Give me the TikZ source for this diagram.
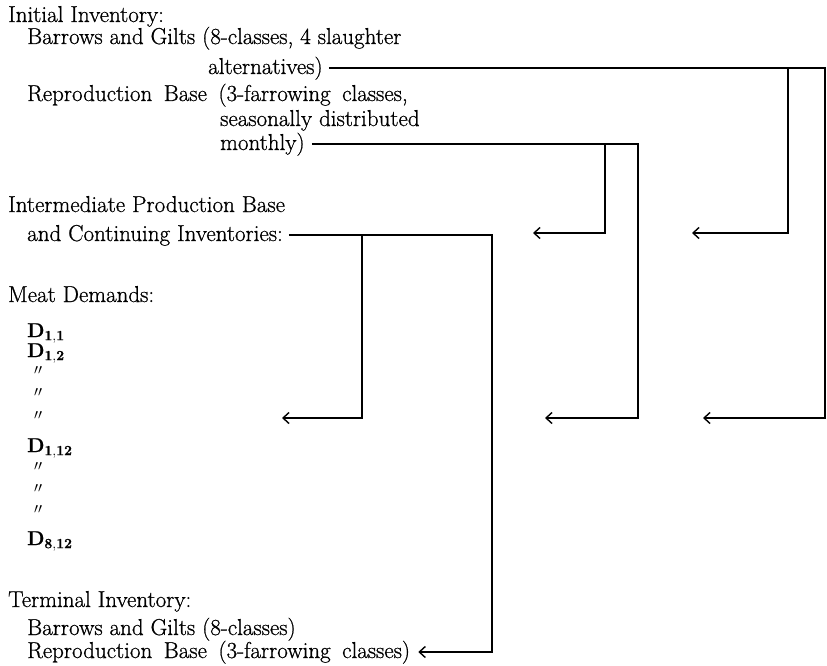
\documentclass[tikz,border=0pt]{standalone}
\usepackage{fontspec}
\setmainfont{Latin Modern Roman}[FakeBold=0.8]
\usetikzlibrary{arrows.meta}
\newcommand{\widespaces}{\spaceskip=0.5em\relax}
\begin{document}
\begin{tikzpicture}[x=1pt,y=-1pt,
  txt/.style={anchor=base west, inner sep=0pt, font=\fontsize{23}{27}\selectfont},
  dtxt/.style={anchor=base west, inner sep=0pt, font=\fontsize{20}{24}\selectfont},
  ditto/.style={anchor=center, inner sep=0pt, font=\fontsize{21}{25}\selectfont},
  conn/.style={line width=1.8pt, line join=miter},
  arr/.style={conn, -{Straight Barb[length=6pt,width=11pt,line width=1.4pt]}}]
\useasboundingbox (0,0) rectangle (827,666);
\fill[white] (0,0) rectangle (827,666);
% texts
\node[txt] (ii) at (8,22) {Initial Inventory:};
\node[txt] (bg) at (27,44) {Barrows and Gilts (8-classes, 4 slaughter};
\node[txt] (alt) at (208,74) {alternatives)};
\node[txt] (rb) at (27,101) {\widespaces Reproduction Base (3-farrowing classes,};
\node[txt] (sd) at (220,126) {seasonally distributed};
\node[txt] (mon) at (220,150) {monthly)};
\node[txt] (ipb) at (8,212) {Intermediate Production Base};
\node[txt] (ci) at (27,241) {and Continuing Inventories:};
\node[txt] (md) at (8,302) {Meat Demands:};
\node[dtxt] (d11) at (27,337) {\textbf{D}$_{\mathbf{1,1}}$};
\node[dtxt] (d12) at (27,357) {\textbf{D}$_{\mathbf{1,2}}$};
\node[ditto] (q1) at (38,370) {$\scriptstyle\prime\prime$};
\node[ditto] (q2) at (38,392) {$\scriptstyle\prime\prime$};
\node[ditto] (q3) at (38,415) {$\scriptstyle\prime\prime$};
\node[dtxt] (d112) at (27,452) {\textbf{D}$_{\mathbf{1,12}}$};
\node[ditto] (q4) at (38,466) {$\scriptstyle\prime\prime$};
\node[ditto] (q5) at (38,488) {$\scriptstyle\prime\prime$};
\node[ditto] (q6) at (38,509) {$\scriptstyle\prime\prime$};
\node[dtxt] (d812) at (27,545) {\textbf{D}$_{\mathbf{8,12}}$};
\node[txt] (ti) at (8,607) {Terminal Inventory:};
\node[txt] (tbg) at (27,635) {Barrows and Gilts (8-classes)};
\node[txt] (trb) at (27,658) {\widespaces Reproduction Base (3-farrowing classes)};
% corner and tip coordinates
\coordinate (c1) at (825,418);
\coordinate (t1) at (703,418);
\coordinate (k1) at (788,233);
\coordinate (u1) at (692,233);
\coordinate (c2) at (638,418);
\coordinate (t2) at (545,418);
\coordinate (k2) at (605,233);
\coordinate (u2) at (533,233);
\coordinate (c3) at (492,652);
\coordinate (k3) at (362,418);
\coordinate (t3) at (282,418);
% connectors
\draw[arr] ([xshift=6pt]alt.east) -| (c1) -- (t1);
\draw[arr] (k1 |- alt.east) -- (k1) -- (u1);
\draw[arr] ([xshift=7pt]mon.east) -| (c2) -- (t2);
\draw[arr] (k2 |- mon.east) -- (k2) -- (u2);
\draw[arr] ([xshift=6pt]ci.east) -| (c3) -- ([xshift=8pt]trb.east |- c3);
\draw[arr] (k3 |- ci.east) -- (k3) -- (t3);
\end{tikzpicture}
\end{document}
